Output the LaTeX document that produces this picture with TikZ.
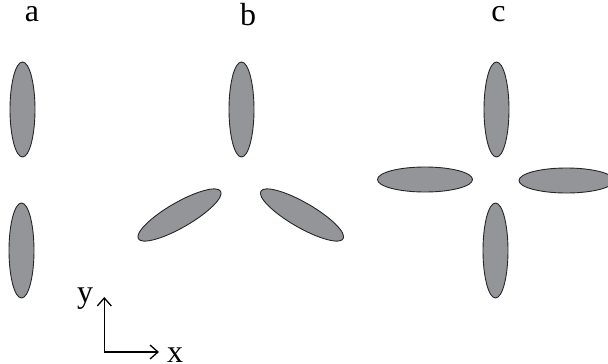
\documentclass[tikz,border=0pt]{standalone}
\usepackage{fontspec}
\setmainfont{Liberation Serif}
\usetikzlibrary{shapes.geometric,arrows.meta}
\definecolor{blobgray}{RGB}{147,149,152}
\tikzset{
  blob/.style={ellipse, draw=black!85, line width=0.9pt, fill=blobgray, inner sep=0pt,
               minimum width=95pt, minimum height=25pt},
  lbl/.style={font=\fontsize{32}{34}\selectfont, inner sep=0pt, anchor=base},
  axis/.style={line width=1.2pt, -{Straight Barb[length=8pt,width=14pt,line width=1.3pt]}}
}
\begin{document}
\begin{tikzpicture}[x=1pt,y=-1pt]
\useasboundingbox (0,0) rectangle (608,364);
\clip (0,0) rectangle (608,364);
% labels
\node[lbl] (la) at (32,21) {a};
\node[lbl] (lb) at (248,25) {b};
\node[lbl] (lc) at (498.5,21) {c};
% a
\node[blob, rotate=90] (a1) at (22.5,109.5) {};
\node[blob, rotate=90] (a2) at (21.5,250.5) {};
% b
\node[blob, rotate=90] (b1) at (241.5,109.5) {};
\node[blob, rotate=30] (b2) at (179.5,215) {};
\node[blob, rotate=-30] (b3) at (302,215) {};
% c
\node[blob, rotate=90] (c1) at (496.5,109.5) {};
\node[blob, rotate=90] (c2) at (495.5,250.5) {};
\node[blob] (c3) at (425,179.5) {};
\node[blob] (c4) at (566.5,180.5) {};
% axes
\coordinate (o) at (104.3,352);
\coordinate (ytip) at (104.3,297);
\coordinate (xtip) at (159,352);
\draw[axis] (o) -- (ytip);
\draw[axis] (o) -- (xtip);
\node[lbl] (ly) at (85,302) {y};
\node[lbl] (lx) at (175,362) {x};
\end{tikzpicture}
\end{document}
